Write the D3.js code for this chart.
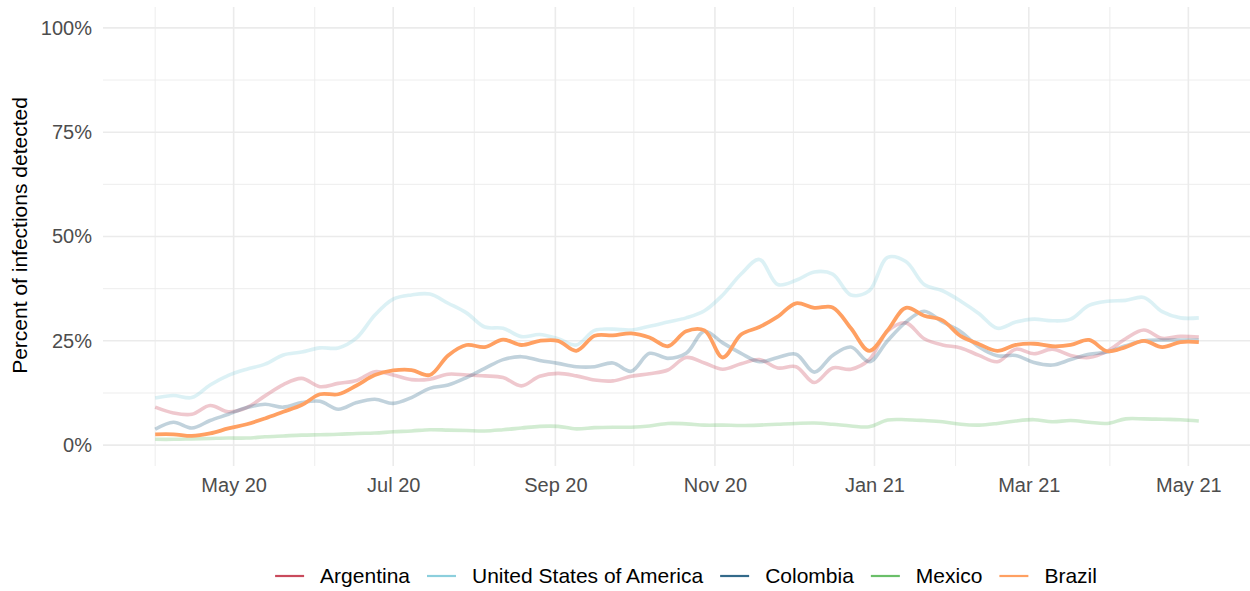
<!DOCTYPE html>
<html>
<head>
<meta charset="utf-8">
<script src="https://cdn.jsdelivr.net/npm/d3@7"></script>
<style>
  body { margin: 0; background: #fff; }
  svg { display: block; font-family: "Liberation Sans", Arial, sans-serif; }
</style>
</head>
<body>
<div class="chart"></div>
<script>
// 数据 (weekly, from 2020-04-01, percent)
var countries = ["Argentina", "United States of America", "Colombia", "Mexico", "Brazil"];
var colors = ["#c94a5c", "#8ccfdd", "#336a8a", "#6abf69", "#ffa062"];
var weeks = d3.timeDay.range(new Date(2020, 3, 1), new Date(2021, 4, 6), 7);

var argentina = [9.1, 7.7, 7.4, 9.5, 8.0, 9.0, 11.8, 14.5, 16.0, 14.0, 14.8, 15.5, 17.6, 16.8, 15.7, 15.8, 17.0, 16.8, 16.6, 16.2,
                 14.2, 16.5, 17.2, 16.6, 15.6, 15.4, 16.5, 17.1, 18.0, 21.0, 19.7, 18.2, 19.5, 20.5, 18.5, 18.8, 15.0, 18.5, 18.2, 20.5,
                 27.3, 29.3, 25.5, 24.0, 23.3, 21.5, 20.0, 23.0, 21.9, 23.0, 21.5, 21.0, 22.5, 25.5, 27.6, 25.6, 26.1, 25.9];
var usa = [11.3, 11.9, 11.4, 14.4, 16.7, 18.2, 19.4, 21.6, 22.3, 23.3, 23.3, 25.7, 31.2, 35.0, 36.0, 36.2, 34.0, 31.7, 28.3, 28.0,
           26.0, 26.5, 25.5, 24.0, 27.5, 27.8, 27.6, 28.5, 29.5, 30.5, 32.2, 36.0, 41.0, 44.5, 38.5, 39.5, 41.5, 41.0, 36.0, 37.0,
           45.0, 44.0, 38.5, 37.0, 34.5, 31.5, 28.0, 29.5, 30.2, 29.8, 30.2, 33.5, 34.5, 34.7, 35.4, 32.0, 30.5, 30.5];
var colombia = [3.8, 5.5, 4.1, 5.9, 7.4, 9.0, 9.8, 9.1, 10.2, 10.5, 8.6, 10.2, 11.0, 10.0, 11.4, 13.6, 14.4, 16.2, 18.4, 20.5,
                21.2, 20.3, 19.6, 18.8, 18.8, 19.7, 17.7, 22.0, 20.8, 22.0, 27.3, 24.5, 22.0, 20.0, 21.0, 21.8, 17.5, 21.5, 23.5, 20.0,
                25.0, 29.5, 32.1, 29.5, 27.2, 23.5, 21.4, 21.5, 19.8, 19.2, 20.5, 21.8, 22.3, 23.8, 25.0, 25.2, 25.2, 25.2];
var mexico = [1.4, 1.4, 1.5, 1.6, 1.7, 1.7, 2.0, 2.2, 2.4, 2.5, 2.6, 2.8, 2.9, 3.2, 3.4, 3.7, 3.6, 3.5, 3.4, 3.7,
              4.1, 4.5, 4.5, 3.9, 4.2, 4.3, 4.3, 4.6, 5.2, 5.1, 4.8, 4.8, 4.7, 4.8, 5.0, 5.2, 5.3, 5.0, 4.6, 4.4,
              6.0, 6.1, 5.9, 5.6, 5.0, 4.8, 5.2, 5.8, 6.1, 5.6, 5.9, 5.5, 5.2, 6.3, 6.3, 6.2, 6.1, 5.8];
var brazil = [2.6, 2.6, 2.2, 2.8, 4.0, 5.0, 6.4, 8.0, 9.6, 12.2, 12.2, 14.3, 16.8, 17.9, 18.0, 16.8, 21.5, 24.0, 23.5, 25.3,
              24.0, 25.0, 25.0, 22.6, 26.2, 26.3, 26.8, 25.8, 23.7, 27.3, 27.5, 21.0, 26.5, 28.3, 30.8, 34.0, 32.9, 33.0, 28.0, 22.6,
              27.5, 32.9, 31.0, 29.9, 26.1, 24.2, 22.6, 24.0, 24.3, 23.7, 24.0, 25.2, 22.5, 23.5, 25.0, 23.5, 24.7, 24.7];
var series = [argentina, usa, colombia, mexico, brazil];
var yTicks = [0, 0.25, 0.5, 0.75, 1];
var yMinor = [0.125, 0.375, 0.625, 0.875];

// 画布
var width = 1250, height = 591;
var panel = {left: 103, right: 1251, top: 7, bottom: 466};
var svg = d3.select(".chart").append("svg")
            .attr("width", width)
            .attr("height", height);

// 比例尺 (5% expansion like ggplot)
var t0 = weeks[0].getTime(), t1 = weeks[weeks.length - 1].getTime();
var pad = (t1 - t0) * 0.05;
var xScale = d3.scaleTime().domain([new Date(t0 - pad), new Date(t1 + pad)]).range([panel.left, panel.right]);
var yScale = d3.scaleLinear().domain([-0.05, 1.05]).range([panel.bottom, panel.top]);

var majorMonths = d3.timeMonth.every(2).range(xScale.domain()[0], xScale.domain()[1]);
var minorMonths = d3.timeMonth.range(xScale.domain()[0], xScale.domain()[1]).filter(function(d) { return d.getMonth() % 2 === 1; });

// 网格
var grid = svg.append("g");
grid.selectAll(".hminor").data(yMinor).enter().append("line")
    .attr("x1", panel.left).attr("x2", panel.right)
    .attr("y1", function(d) { return yScale(d); }).attr("y2", function(d) { return yScale(d); })
    .attr("stroke", "#ebebeb").attr("stroke-width", 0.9);
grid.selectAll(".vminor").data(minorMonths).enter().append("line")
    .attr("y1", panel.top).attr("y2", panel.bottom)
    .attr("x1", function(d) { return xScale(d); }).attr("x2", function(d) { return xScale(d); })
    .attr("stroke", "#ebebeb").attr("stroke-width", 0.9);
grid.selectAll(".hmajor").data(yTicks).enter().append("line")
    .attr("x1", panel.left).attr("x2", panel.right)
    .attr("y1", function(d) { return yScale(d); }).attr("y2", function(d) { return yScale(d); })
    .attr("stroke", "#ebebeb").attr("stroke-width", 1.6);
grid.selectAll(".vmajor").data(majorMonths).enter().append("line")
    .attr("y1", panel.top).attr("y2", panel.bottom)
    .attr("x1", function(d) { return xScale(d); }).attr("x2", function(d) { return xScale(d); })
    .attr("stroke", "#ebebeb").attr("stroke-width", 1.6);

// 坐标轴
var xAxis = d3.axisBottom(xScale).tickValues(majorMonths).tickFormat(d3.timeFormat("%b %y")).tickSize(0).tickPadding(12);
var yAxis = d3.axisLeft(yScale).tickValues(yTicks).tickFormat(d3.format(".0%")).tickSize(0).tickPadding(11);

svg.append("g").attr("transform", "translate(0," + panel.bottom + ")").call(xAxis)
   .call(function(g) { g.select(".domain").remove(); })
   .selectAll("text").attr("font-size", 20).attr("fill", "#4d4d4d").attr("font-family", "Liberation Sans, Arial, sans-serif");
svg.append("g").attr("transform", "translate(" + panel.left + ",0)").call(yAxis)
   .call(function(g) { g.select(".domain").remove(); })
   .selectAll("text").attr("font-size", 20).attr("fill", "#4d4d4d").attr("font-family", "Liberation Sans, Arial, sans-serif");

svg.append("text")
   .attr("transform", "translate(27," + (yScale(0.5) - 1) + ") rotate(-90)")
   .attr("text-anchor", "middle")
   .attr("font-size", 21)
   .attr("fill", "#000")
   .text("Percent of infections detected");

// 线
var line = d3.line()
    .x(function(d, i) { return xScale(weeks[i]); })
    .y(function(d) { return yScale(d / 100); })
    .curve(d3.curveCatmullRom.alpha(0.5));

svg.append("g").selectAll("path").data(series).enter().append("path")
   .attr("d", line)
   .attr("fill", "none")
   .attr("stroke", function(d, i) { return colors[i]; })
   .attr("stroke-width", function(d, i) { return i === 4 ? 3.8 : 3.6; })
   .attr("stroke-opacity", function(d, i) { return i === 4 ? 1 : 0.3; })
   .attr("stroke-linejoin", "round");

// 图例
var legend = svg.append("g");
var items = legend.selectAll("g").data(countries).enter().append("g");
items.append("line")
     .attr("x1", 0).attr("x2", 29).attr("y1", 0).attr("y2", 0)
     .attr("stroke", function(d, i) { return colors[i]; })
     .attr("stroke-width", 2.2);
items.append("text")
     .attr("x", 45).attr("y", 0).attr("dy", "0.35em")
     .attr("font-size", 21).attr("fill", "#000")
     .text(function(d) { return d; });
var offset = 0, positions = [];
items.each(function() {
    positions.push(offset);
    offset += 45 + this.querySelector("text").getComputedTextLength() + 17;
});
var total = offset - 17;
var lx = 686 - total / 2;
items.attr("transform", function(d, i) { return "translate(" + (lx + positions[i]) + ",576)"; });
</script>
</body>
</html>
